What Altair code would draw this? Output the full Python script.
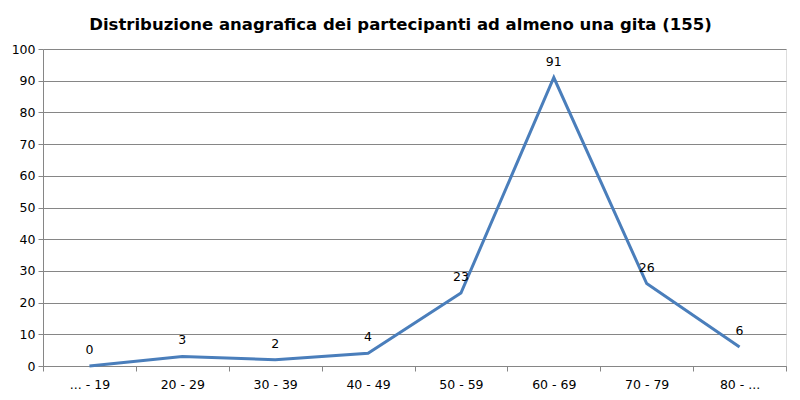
import altair as alt
import pandas as pd

categories = ["... - 19", "20 - 29", "30 - 39", "40 - 49", "50 - 59", "60 - 69", "70 - 79", "80 - ..."]
values = [0, 3, 2, 4, 23, 91, 26, 6]

df = pd.DataFrame({"cat": categories, "val": values})

FONT = "DejaVu Sans"
GRID = "#868686"
LINE = "#4a7ebb"

x = alt.X("cat:N", sort=categories, bandPosition=0.5,
          scale=alt.Scale(type="band", paddingInner=0, paddingOuter=0),
          axis=alt.Axis(title=None, labelAngle=0, tickBand="extent", domainColor=GRID,
                        tickColor=GRID, tickSize=5, labelPadding=7, labelFontSize=12.5,
                        labelColor="#000000", labelFont=FONT, grid=False))
y = alt.Y("val:Q", scale=alt.Scale(domain=[0, 100], nice=False),
          axis=alt.Axis(title=None, values=list(range(0, 101, 10)), gridColor=GRID,
                        domainColor=GRID, tickColor=GRID, tickSize=5, labelPadding=3,
                        labelFontSize=12.5, labelColor="#000000", labelFont=FONT))

base = alt.Chart(df)
line = base.mark_line(color=LINE, strokeWidth=3).encode(x=x, y=y)
text = base.mark_text(dy=-16, fontSize=12.5, font=FONT, color="#000000").encode(
    x=x, y=y, text="val:Q")

chart = (line + text).properties(
    width=743, height=317,
    autosize=alt.AutoSizeParams(type="none"),
    padding={"left": 35, "top": 41, "right": 6, "bottom": 26},
    title=alt.Title("Distribuzione anagrafica dei partecipanti ad almeno una gita (155)",
                    font=FONT, fontSize=16.5, fontWeight="bold", color="#000000",
                    offset=10, anchor="middle", dx=-14),
).configure_view(stroke=None).configure(background="#ffffff")

chart.save("out.html", embed_options={"renderer": "svg", "actions": False})
